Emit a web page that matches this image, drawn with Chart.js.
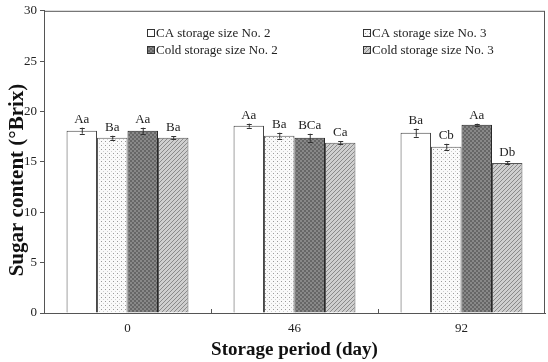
<!DOCTYPE html>
<html>
<head>
<meta charset="utf-8">
<script src="https://cdn.jsdelivr.net/npm/chart.js@4/dist/chart.umd.min.js"></script>
<style>
  html, body { margin: 0; padding: 0; background: #fff; }
  #wrap { width: 548px; height: 362px; }
</style>
</head>
<body>
<div id="wrap"><canvas id="sugarChart" width="548" height="362"></canvas></div>
<script>
const days = ['0', '46', '92'];
const seriesNames = ['CA storage size No. 2', 'CA storage size No. 3', 'Cold storage size No. 2', 'Cold storage size No. 3'];
const caNo2 = [18.1, 18.6, 17.9];
const caNo3 = [17.4, 17.6, 16.5];
const coldNo2 = [18.1, 17.4, 18.7];
const coldNo3 = [17.4, 16.9, 14.9];
const caNo2Err = [0.3, 0.2, 0.4];
const caNo3Err = [0.2, 0.3, 0.3];
const coldNo2Err = [0.3, 0.4, 0.1];
const coldNo3Err = [0.15, 0.15, 0.15];
const caNo2Lbl = ['Aa', 'Aa', 'Ba'];
const caNo3Lbl = ['Ba', 'Ba', 'Cb'];
const coldNo2Lbl = ['Aa', 'BCa', 'Aa'];
const coldNo3Lbl = ['Ba', 'Ca', 'Db'];
const yTicks = [0, 5, 10, 15, 20, 25, 30];
const yTitle = 'Sugar content (°Brix)';

const serif = "'Liberation Serif', 'DejaVu Serif', serif";

function makePattern(kind) {
  const c = document.createElement('canvas');
  c.width = 4; c.height = 4;
  const g = c.getContext('2d');
  if (kind === 'dots') {
    g.fillStyle = '#fafafa'; g.fillRect(0, 0, 4, 4);
    g.fillStyle = '#9a9a9a'; g.fillRect(1, 1, 1, 1);
    g.fillStyle = '#cfcfcf'; g.fillRect(3, 3, 1, 1);
  } else if (kind === 'checker') {
    g.fillStyle = '#666'; g.fillRect(0, 0, 4, 4);
    g.fillStyle = '#888'; g.fillRect(0, 0, 2, 2); g.fillRect(2, 2, 2, 2);
  } else {
    g.fillStyle = '#cfcfcf'; g.fillRect(0, 0, 4, 4);
    g.fillStyle = '#8a8a8a';
    g.fillRect(0, 1, 1, 1); g.fillRect(1, 0, 1, 1);
    g.fillRect(2, 3, 1, 1); g.fillRect(3, 2, 1, 1);
  }
  return g.createPattern(c, 'repeat');
}

const fills = ['#ffffff', makePattern('dots'), makePattern('checker'), makePattern('hatch')];
const borders = ['#444', '#555', '#222', '#555'];
const values = [caNo2, caNo3, coldNo2, coldNo3];
const errs = [caNo2Err, caNo3Err, coldNo2Err, coldNo3Err];
const lbls = [caNo2Lbl, caNo3Lbl, coldNo2Lbl, coldNo3Lbl];

const extras = {
  id: 'extras',
  afterDatasetsDraw(chart) {
    const ctx = chart.ctx;
    const y = chart.scales.y;
    const a = chart.chartArea;
    ctx.save();
    // error bars + letters
    chart.data.datasets.forEach((ds, di) => {
      const meta = chart.getDatasetMeta(di);
      meta.data.forEach((bar, i) => {
        const top = y.getPixelForValue(values[di][i] + errs[di][i]);
        const bot = y.getPixelForValue(values[di][i] - errs[di][i]);
        ctx.strokeStyle = '#333';
        ctx.lineWidth = 1;
        ctx.beginPath();
        ctx.moveTo(bar.x + 0.5, top); ctx.lineTo(bar.x + 0.5, bot);
        ctx.moveTo(bar.x - 2, Math.round(top) + 0.5); ctx.lineTo(bar.x + 3, Math.round(top) + 0.5);
        ctx.moveTo(bar.x - 2, Math.round(bot) + 0.5); ctx.lineTo(bar.x + 3, Math.round(bot) + 0.5);
        ctx.stroke();
        ctx.fillStyle = '#222';
        ctx.font = '13px ' + serif;
        ctx.textAlign = 'center';
        ctx.textBaseline = 'bottom';
        ctx.fillText(lbls[di][i], bar.x, top - 2);
      });
    });
    // box around plot
    ctx.strokeStyle = '#555';
    ctx.lineWidth = 1;
    ctx.strokeRect(a.left + 0.5, a.top + 0.5, a.right - a.left - 1, a.bottom - a.top);
    // small category-boundary ticks
    const x = chart.scales.x;
    const step = (a.right - a.left) / days.length;
    ctx.beginPath();
    for (let i = 1; i < days.length; i++) {
      const px = Math.round(x.getPixelForValue(i) - step / 2) + 0.5;
      ctx.moveTo(px, a.bottom); ctx.lineTo(px, a.bottom - 4);
    }
    ctx.stroke();
    // legend
    const cols = [147, 363];
    const rows = [33, 50];
    chart.data.datasets.forEach((ds, di) => {
      const lx = cols[di % 2];
      const ly = rows[Math.floor(di / 2)];
      ctx.fillStyle = ds.backgroundColor;
      ctx.fillRect(lx, ly - 4, 8, 8);
      ctx.strokeStyle = '#333';
      ctx.strokeRect(lx + 0.5, ly - 3.5, 7, 7);
      ctx.fillStyle = '#222';
      ctx.font = '13px ' + serif;
      ctx.textAlign = 'left';
      ctx.textBaseline = 'middle';
      ctx.fillText(ds.label, lx + 9, ly + 0.5);
    });
    // y axis title (sits a bit below the plot centre in the original)
    ctx.translate(18, 180);
    ctx.rotate(-Math.PI / 2);
    ctx.fillStyle = '#111';
    ctx.font = 'bold 21px ' + serif;
    ctx.textAlign = 'center';
    ctx.textBaseline = 'middle';
    ctx.fillText(yTitle, 0, 0);
    ctx.restore();
  }
};

new Chart(document.getElementById('sugarChart').getContext('2d'), {
  type: 'bar',
  data: {
    labels: days,
    datasets: seriesNames.map((name, i) => ({
      label: name,
      data: values[i],
      backgroundColor: fills[i],
      borderColor: borders[i],
      borderWidth: 1,
      borderSkipped: 'bottom',
      categoryPercentage: 0.73,
      barPercentage: 1.0
    }))
  },
  options: {
    responsive: false,
    animation: false,
    layout: { padding: { top: 9, right: 3, left: 4, bottom: 1 } },
    plugins: { legend: { display: false }, tooltip: { enabled: false } },
    scales: {
      x: {
        grid: { display: false, tickLength: 0 },
        border: { color: '#555' },
        ticks: { color: '#222', font: { family: serif, size: 13 }, padding: 8 },
        title: { display: true, text: 'Storage period (day)', color: '#111', font: { family: serif, size: 19, weight: 'bold' }, padding: { top: 2, bottom: 0 } },
        afterFit(s) { s.height = 48; }
      },
      y: {
        min: 0, max: 30,
        afterBuildTicks(s) { s.ticks = yTicks.map(v => ({ value: v })); },
        grid: { drawOnChartArea: false, tickLength: 4, color: '#555' },
        border: { color: '#555' },
        ticks: { color: '#222', font: { family: serif, size: 13 }, padding: 3 },
        title: { display: false },
        afterFit(s) { s.width = 40; }
      }
    }
  },
  plugins: [extras]
});
</script>
</body>
</html>
